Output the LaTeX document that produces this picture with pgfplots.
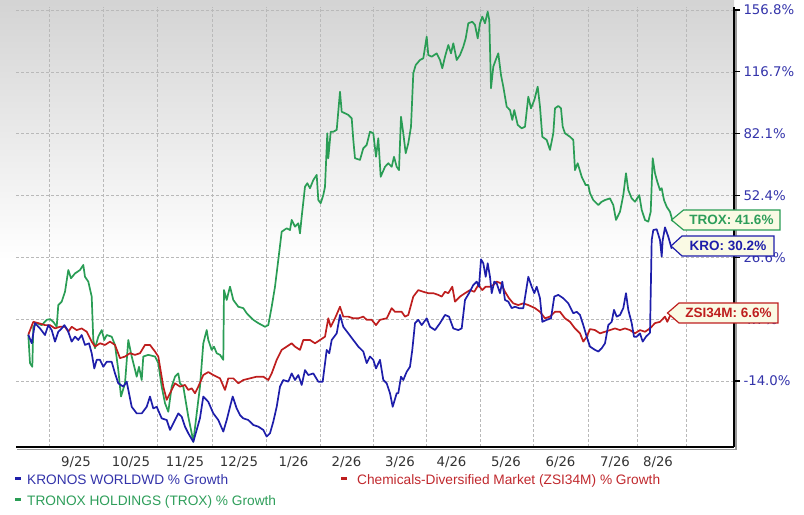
\documentclass[border=0pt]{standalone}
\usepackage{pgfplots}
\pgfplotsset{compat=1.18}
\usepackage{fontspec}
\setmainfont{DejaVu Sans}
\newfontfamily\arialf{Liberation Sans}
\definecolor{kro}{HTML}{1E1EAA}
\definecolor{trox}{HTML}{2A9D55}
\definecolor{zsi}{HTML}{BE1E1E}
\definecolor{ylab}{HTML}{3333AA}
\definecolor{xlab}{HTML}{333333}
\definecolor{krotext}{HTML}{3333AA}
\definecolor{troxtext}{HTML}{2E9E5A}
\definecolor{zsitext}{HTML}{C0282D}
\definecolor{tagfill}{HTML}{FAFAE4}
\begin{document}
\begin{tikzpicture}
\useasboundingbox (0,0) rectangle (804bp,515bp);
\shade[top color=black!17, bottom color=white] (0,515bp) rectangle (734bp,255bp);
% soft shadow of the axis frame
\draw[black!40, line width=1.3bp] (736bp,506bp) -- (736bp,65.6bp) -- (17bp,65.6bp);
\begin{axis}[
  at={(16bp,68bp)}, anchor=south west,
  x=1bp, y=61.83bp,
  xmin=16, xmax=734, ymin=-1.0675, ymax=6.05,
  axis x line*=bottom, axis y line*=right,
  axis line style={line width=2.2bp, black},
  xtick={76,131,185,239,293.5,346.5,400,451.5,506,560.5,615,658},
  xticklabels={9/25,10/25,11/25,12/25,1/26,2/26,3/26,4/26,5/26,6/26,7/26,8/26},
  minor xtick={49,103.3,157.3,212,266.7,320,373.3,426.7,480,533.3,588.7,637.3,686},
  xminorgrids, ymajorgrids,
  major grid style={gray!55, dash pattern=on 3bp off 2bp, line width=0.5bp},
  minor grid style={gray!55, dash pattern=on 3bp off 2bp, line width=0.5bp},
  xtick style={draw=none}, minor tick length=0pt,
  ytick={0,1,2,3,4,5,6},
  yticklabels={-14.0\%,4.7\%,26.6\%,52.4\%,82.1\%,116.7\%,156.8\%},
  ytick style={black, line width=1.2bp},
  tick align=outside, major tick length=6bp,
  y filter/.expression={y<4.7 ? (y+14)/18.7 : (y<26.6 ? 1+(y-4.7)/21.9 : (y<52.4 ? 2+(y-26.6)/25.8 : (y<82.1 ? 3+(y-52.4)/29.7 : (y<116.7 ? 4+(y-82.1)/34.6 : 5+(y-116.7)/40.1))))},
  ticklabel style={font=\fontsize{13.3bp}{15bp}\selectfont},
  xticklabel style={text=xlab},
  yticklabel style={text=ylab, anchor=west},
  every axis plot/.append style={line width=1.7bp, line join=round, no markers},
]
\addplot[trox] coordinates {(28.3,0) (30,-8.6) (32.3,-9.7) (33.3,2.4) (36.7,3.5) (41.7,2.9) (46.7,4.5) (50,4.7) (53.3,3.9) (56.7,2.4) (58.3,9.7) (61.7,10.9) (65,14.4) (68.3,22.1) (71,19.2) (75,20.9) (80,22.1) (83.3,23.9) (85,19.7) (88.3,18.0) (91.7,12.7) (93.3,-1.6) (95,-4.1) (98.3,-0.6) (101.7,1.4) (104.3,-1.6) (106.7,-0.1) (111.7,-0.6) (115,-3.1) (118.3,-10.7) (121,-18.7) (125,-14.7) (128.3,-1.6) (131.7,-6.6) (134.3,-9.7) (136.7,-12.7) (139,-9.7) (141.7,-13.7) (143.3,-6.6) (148.3,-6.1) (155,-6.6) (158.3,-8.6) (161.7,-15.7) (165,-20.7) (168.3,-23.3) (171.7,-15.7) (175,-12.7) (178.3,-11.7) (180,-14.7) (183.3,-15.7) (188.3,-24.8) (191.7,-29.8) (193.3,-32.4) (196.7,-23.8) (200,-15.7) (203.3,-2.6) (206.7,1.4) (208.3,-1.6) (211.7,-4.6) (214,-3.6) (216.7,-5.6) (220,-6.1) (223.3,-7.6) (224,15.0) (226.7,11.5) (230,16.2) (233.3,11.5) (238.3,9.1) (243.3,8.6) (246.7,6.8) (250,5.6) (253.3,4.5) (258.3,3.5) (265,2.4) (268.3,2.9) (271.7,9.1) (275,16.2) (278.3,25.7) (281.7,37.3) (286.7,38.7) (290,38.0) (291.7,42.2) (295,39.4) (298.3,40.8) (300,36.6) (301.7,43.6) (305,56.6) (307.3,58.3) (310,55.9) (313.3,59.8) (316.7,62.3) (318.3,50.5) (320.7,49.2) (323.3,52.6) (325,56.6) (327.3,82.3) (328.3,70.3) (330.7,83.2) (333.3,83.2) (336.7,84.2) (340,105.6) (341.7,94.4) (345,93.5) (348.3,92.6) (351.7,90.7) (353.3,79.1) (355,70.3) (360,69.5) (363.3,75.1) (366.7,76.7) (370,83.2) (373.3,82.3) (376,71.0) (378.3,79.9) (380.7,61.4) (385,66.2) (388.3,67.9) (391.7,66.2) (394,71.0) (396.7,66.2) (399,64.6) (401,91.6) (403.3,82.3) (405.7,72.7) (408.3,77.5) (411,86.0) (413.3,115.9) (415.7,121.1) (420,124.4) (423.3,125.5) (426.7,139.5) (428.3,127.6) (431.7,126.5) (436.7,128.7) (440,124.4) (442.3,119.0) (445,126.5) (448.3,134.1) (451,128.7) (453.3,135.2) (456.7,124.4) (460,127.6) (463.3,133.0) (465.7,138.4) (468.3,148.2) (472.3,149.2) (475,147.1) (477.7,138.4) (480,148.2) (482.3,152.5) (485,148.2) (487.7,155.7) (489.3,150.3) (491,107.5) (493.3,120.0) (495.7,124.4) (498.3,128.7) (501,114.9) (503.3,108.4) (506.7,97.2) (510,95.3) (512.3,89.8) (514.3,95.3) (517.7,87.0) (521.7,85.1) (525,86.0) (528.3,102.8) (531,96.3) (534.3,100.9) (537.7,108.4) (540,97.2) (542.3,80.6) (546.7,79.1) (550,74.3) (553.3,82.3) (555,96.3) (558.3,97.6) (561,96.3) (562.7,86.0) (565,82.3) (570,80.6) (573.3,79.1) (575,64.6) (577.7,67.9) (581.7,61.4) (585.7,57.4) (588.3,57.4) (590,53.5) (593.3,50.5) (598.3,48.4) (601.7,49.8) (605,50.5) (610,51.2) (613.3,48.4) (616,42.2) (620,45.6) (623.3,52.6) (626,63.1) (628.3,55.0) (631.7,51.2) (635,49.8) (639.3,52.6) (641.7,46.4) (645,42.2) (648.3,41.5) (650.7,45.6) (652.7,70.3) (655,63.1) (657.3,59.0) (660,55.0) (661.7,55.9) (664,50.5) (666.7,47.7) (670,45.6) (672.7,41.6)};
\addplot[zsi] coordinates {(28.3,0) (33.3,3.9) (38.3,3.5) (45,2.9) (50,2.9) (55,1.9) (60,2.4) (65,2.4) (68.3,0.9) (71.7,2.4) (76.7,1.4) (81.7,1.9) (86.7,0.9) (91.7,-2.1) (95,-3.6) (100,-2.6) (105,-3.1) (110,-2.1) (115,-3.1) (120,-7.1) (125,-6.6) (130,-5.6) (135,-6.1) (140,-5.6) (145,-3.1) (150,-3.1) (155,-5.1) (158.3,-6.6) (163.3,-15.7) (166.7,-19.7) (170,-17.7) (175,-14.7) (180,-15.7) (185,-15.2) (188.3,-16.7) (191.7,-16.2) (195,-17.7) (198.3,-15.7) (203.3,-12.2) (208.3,-11.3) (213.3,-12.2) (220,-13.2) (225,-16.7) (228.3,-13.2) (233.3,-13.2) (238.3,-14.7) (243.3,-13.7) (250,-13.2) (256.7,-12.7) (263.3,-12.7) (268.3,-13.7) (271.7,-11.7) (276.7,-7.6) (281.7,-4.6) (286.7,-3.6) (291.7,-2.6) (295,-3.6) (300,-4.6) (303.3,-1.6) (310,-1.6) (315,-2.6) (320,-1.6) (325,-0.6) (328.3,5.0) (330.7,2.4) (335,5.0) (340,9.1) (343.3,5.6) (348.3,5.6) (353.3,5.0) (358.3,5.0) (363.3,5.6) (366.7,4.5) (371.7,4.5) (376,2.9) (380,4.5) (386.7,5.0) (391.7,8.6) (395,7.3) (401.7,7.3) (405,5.6) (408.3,6.2) (413.3,12.7) (418.3,15.0) (423.3,14.4) (428.3,13.9) (433.3,13.9) (438.3,13.3) (441.7,12.7) (445,14.4) (448.3,13.9) (452.3,16.2) (455,10.9) (460,12.7) (465,13.9) (470,15.0) (474.3,14.4) (478.3,16.8) (482.3,15.0) (485.7,16.2) (490,16.2) (493.3,16.8) (496.7,18.0) (501,17.4) (505,14.4) (509,12.1) (513.3,10.3) (518.3,9.7) (523.3,10.3) (528.3,9.7) (535,8.6) (540,7.3) (545,5.0) (550,5.6) (555,7.3) (560,7.3) (565,5.0) (570,3.9) (575,1.9) (580,0.4) (583.3,-2.1) (586.7,-0.6) (590,1.7) (595,1.4) (600,0.4) (605,0.9) (610,1.4) (615,1.9) (620,1.4) (625,1.9) (630,1.4) (635,0.4) (640,1.4) (645,0.9) (650,1.9) (655,3.5) (660,3.9) (665,5.6) (667.3,3.9) (671,6.6)};
\addplot[kro] coordinates {(28.3,0) (31.7,-2.6) (35,3.5) (40,1.9) (45,-0.1) (48.3,2.9) (51.7,1.4) (55,-2.1) (58.3,0.9) (61.7,1.9) (64.3,2.9) (67.7,1.4) (71.7,-2.1) (75,-0.6) (78.3,-1.6) (81.7,-0.1) (85,-3.1) (89,-2.6) (91.7,-5.6) (94.3,-10.2) (96.7,-7.6) (100,-7.6) (103.3,-9.7) (106.7,-8.2) (111.7,-8.2) (115,-11.7) (118.3,-14.7) (123.3,-15.7) (126.7,-14.2) (131.7,-21.8) (136.7,-23.8) (141.7,-23.8) (146.7,-21.8) (150,-18.7) (153.3,-22.3) (156.7,-21.8) (161.7,-25.3) (166.7,-25.8) (170,-28.8) (173.3,-26.8) (178.3,-23.8) (181.7,-24.8) (185,-27.8) (188.3,-29.8) (193.3,-32.4) (196.7,-28.8) (200,-25.2) (203.3,-18.7) (208.3,-20.3) (213.3,-23.8) (218.3,-25.8) (223.3,-29.3) (226.7,-25.8) (230,-21.8) (232.7,-18.7) (236.7,-22.3) (240,-24.3) (243.3,-25.3) (248.3,-25.8) (253.3,-27.3) (258.3,-27.8) (263.3,-28.8) (266.7,-30.8) (270,-29.8) (273.3,-26.3) (276.7,-21.8) (280,-15.7) (283.3,-13.7) (288.3,-14.2) (291.7,-11.7) (295,-13.7) (298.3,-12.2) (301.7,-15.2) (305,-10.7) (308.3,-12.2) (313.3,-11.7) (318.3,-14.2) (322.7,-14.2) (326.7,-4.6) (329.3,-5.6) (331.7,-1.6) (336.7,0.4) (340,6.2) (343.3,2.4) (348.3,0.4) (353.3,-1.6) (358.3,-3.6) (363.3,-5.1) (366.7,-8.6) (370,-6.6) (373.3,-7.6) (376,-10.2) (380,-7.6) (383.3,-13.7) (386.7,-14.7) (390,-17.7) (392.7,-21.8) (396.7,-17.7) (398.3,-17.7) (401,-12.7) (403.3,-13.7) (406.7,-11.2) (410,-9.7) (412.3,-4.6) (415,3.5) (418.3,4.5) (421.7,2.9) (426.7,5.0) (430,2.4) (435,1.4) (440,3.5) (445,6.2) (449,5.6) (453.3,1.9) (458.3,1.4) (461.7,1.9) (465,11.5) (469,13.9) (473.3,16.8) (476.7,18.0) (479,16.2) (481,25.9) (483.3,24.5) (485.7,19.7) (487.7,24.5) (490,19.7) (491.7,13.9) (494.3,18.0) (496.7,17.4) (500,13.9) (502.3,18.0) (505,11.5) (508.3,10.9) (511.7,8.6) (515,9.1) (519,8.6) (523.3,8.6) (525.7,13.9) (528.3,19.7) (531.7,16.2) (534.3,13.9) (536.7,16.2) (540,12.1) (542.3,3.9) (546.7,4.5) (551,5.0) (554.3,12.7) (558.3,13.3) (563.3,12.1) (568.3,10.3) (573.3,6.8) (576.7,7.3) (580,6.2) (583.3,2.9) (586.7,-0.6) (590,-3.6) (595,-4.6) (598.3,-5.1) (601.7,-4.1) (605,-2.6) (608.3,2.9) (611.7,3.9) (614,8.0) (616.7,5.6) (620,6.2) (623.3,8.6) (626,13.9) (628.3,8.0) (631.7,3.5) (634,-0.6) (636.7,-0.6) (640,0.4) (642.7,-2.1) (646,-0.6) (650,0.6) (651.7,33.8) (653.3,38.0) (656.7,38.3) (660,33.8) (661.7,26.9) (662.7,33.8) (665,39.1) (668.3,35.2) (671.7,30.2)};
\end{axis}
% end-of-series tags
\filldraw[fill=tagfill, draw=trox, line width=1.2bp] (671.5bp,295bp) -- (683.5bp,305bp) -- (780bp,305bp) -- (780bp,285bp) -- (683.5bp,285bp) -- cycle;
\node[text=troxtext, font=\arialf\bfseries\fontsize{13.5bp}{15bp}\selectfont] at (731.5bp,295bp) {TROX: 41.6\%};
\filldraw[fill=tagfill, draw=kro, line width=1.2bp] (671bp,269bp) -- (682bp,279bp) -- (774bp,279bp) -- (774bp,259bp) -- (682bp,259bp) -- cycle;
\node[text=kro, font=\arialf\bfseries\fontsize{13.5bp}{15bp}\selectfont] at (728bp,269bp) {KRO: 30.2\%};
\filldraw[fill=tagfill, draw=zsi, line width=1.2bp] (667.5bp,202bp) -- (679bp,212bp) -- (778bp,212bp) -- (778bp,192bp) -- (679bp,192bp) -- cycle;
\node[text=zsi, font=\arialf\bfseries\fontsize{13.5bp}{15bp}\selectfont] at (728.5bp,202bp) {ZSI34M: 6.6\%};
% legend
\draw[kro, line width=3bp] (15bp,36bp) -- (21bp,36bp);
\node[anchor=base west, inner sep=0pt, text=krotext, font=\arialf\fontsize{13.7bp}{15bp}\selectfont] at (27bp,30.7bp) {KRONOS WORLDWD \% Growth};
\draw[trox, line width=3bp] (15bp,15bp) -- (21bp,15bp);
\node[anchor=base west, inner sep=0pt, text=troxtext, font=\arialf\fontsize{13.7bp}{15bp}\selectfont] at (27bp,10bp) {TRONOX HOLDINGS (TROX) \% Growth};
\draw[zsi, line width=3bp] (341bp,36bp) -- (347bp,36bp);
\node[anchor=base west, inner sep=0pt, text=zsitext, font=\arialf\fontsize{13.7bp}{15bp}\selectfont] at (357bp,30.7bp) {Chemicals-Diversified Market (ZSI34M) \% Growth};
\end{tikzpicture}
\end{document}
